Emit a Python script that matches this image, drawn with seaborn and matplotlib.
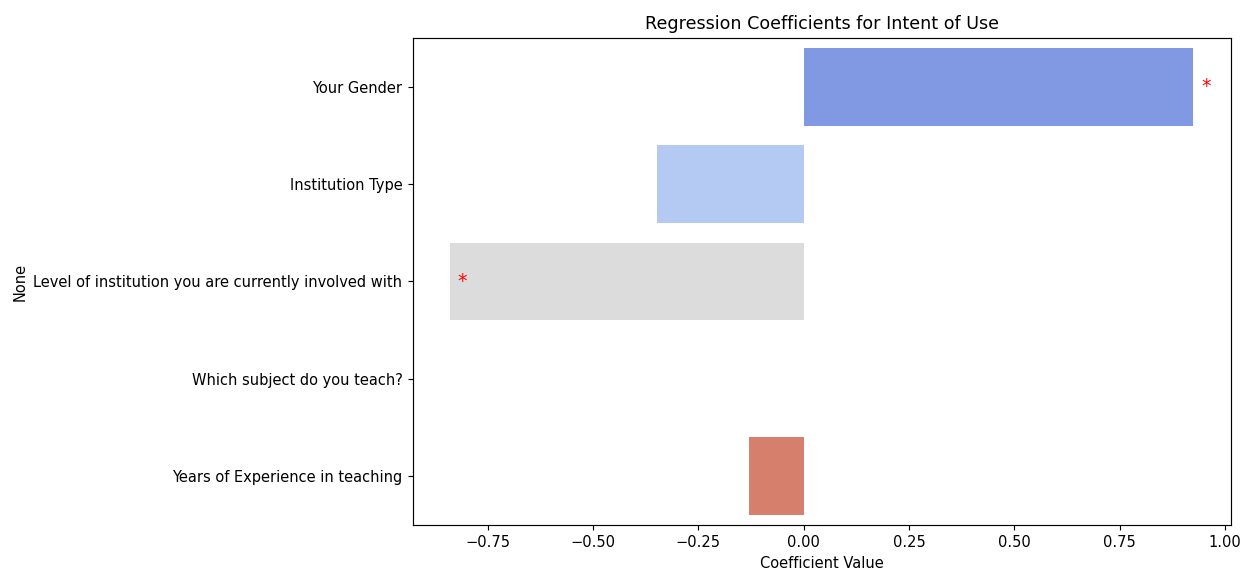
import pandas as pd
import matplotlib
matplotlib.use('Agg')
import matplotlib.pyplot as plt
import seaborn as sns

# regression results (coefficients)
predictors = ['Your Gender', 'Institution Type', 'Level of institution you are currently involved with',
              'Which subject do you teach?', 'Years of Experience in teaching']
coefs = [0.925, -0.348, -0.840, 0.0, -0.131]
significant = [True, False, True, False, False]

df = pd.DataFrame({'predictor': predictors, 'coef': coefs, 'sig': significant})

dpi = 105
fig = plt.figure(figsize=(1243 / dpi, 571 / dpi), dpi=dpi)
ax = fig.add_subplot(111)
fig.subplots_adjust(left=0.332, right=0.990, bottom=0.0806, top=0.9335)

sns.barplot(data=df, x='coef', y='predictor', hue='predictor', palette='coolwarm', legend=False, ax=ax)

# mark significant coefficients
for i, row in df.iterrows():
    if row['sig']:
        ax.text(row['coef'] + 0.03, i, '*', color='red', ha='center', va='center', fontsize=13)

ax.set_title('Regression Coefficients for Intent of Use')
ax.set_xlabel('Coefficient Value')
ax.set_ylabel('None')

fig.savefig('out.png', dpi=dpi)
